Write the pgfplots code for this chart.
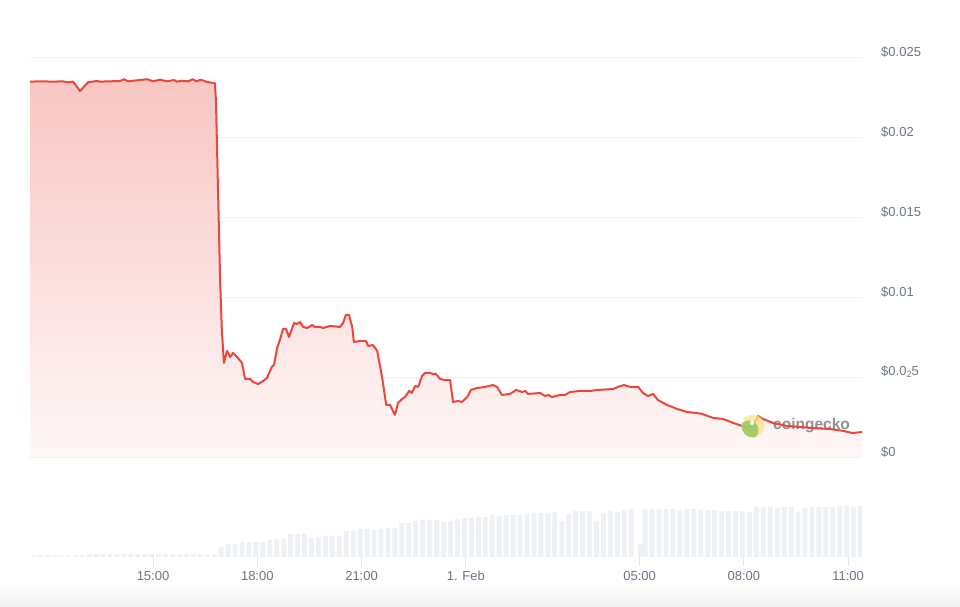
\documentclass[border=0pt]{standalone}
\usepackage{fontspec}
\setmainfont{Liberation Sans}
\usepackage{pgfplots}
\usepackage{pgfplotstable}
\pgfplotsset{compat=1.18}
\definecolor{linered}{RGB}{234,70,58}
\definecolor{fillTop}{RGB}{248,198,195}
\definecolor{fillBot}{RGB}{255,247,247}
\definecolor{gridc}{RGB}{240,241,244}
\definecolor{labelc}{RGB}{106,117,135}
\definecolor{barc}{RGB}{237,240,244}
\definecolor{tickc}{RGB}{226,229,234}
\definecolor{bandc}{RGB}{241,241,242}
\definecolor{wmtext}{RGB}{115,115,115}
\definecolor{wmyellow}{RGB}{250,228,140}
\definecolor{wmgreen}{RGB}{140,200,90}

\pgfplotstableread{
h v
11.46 0.02346
11.75 0.02348
12.12 0.02346
12.41 0.02348
12.53 0.02342
12.70 0.02346
12.90 0.02288
13.13 0.02342
13.39 0.02350
13.47 0.02346
14.05 0.02350
14.17 0.02361
14.28 0.02348
14.83 0.02361
15.00 0.02348
15.20 0.02358
15.40 0.02348
15.60 0.02356
15.69 0.02346
15.83 0.02352
16.01 0.02348
16.15 0.02361
16.24 0.02348
16.38 0.02358
16.55 0.02344
16.78 0.02336
16.81 0.02231
16.93 0.01106
16.98 0.00794
17.04 0.00588
17.13 0.00663
17.22 0.00625
17.30 0.00650
17.42 0.00625
17.56 0.00588
17.65 0.00488
17.79 0.00488
17.88 0.00469
18.02 0.00456
18.17 0.00475
18.28 0.00494
18.42 0.00563
18.48 0.00575
18.57 0.00681
18.65 0.00731
18.74 0.00800
18.83 0.00800
18.91 0.00750
19.06 0.00838
19.14 0.00831
19.23 0.00844
19.32 0.00813
19.43 0.00806
19.58 0.00825
19.66 0.00813
19.81 0.00813
19.89 0.00806
20.09 0.00819
20.38 0.00813
20.47 0.00838
20.55 0.00888
20.64 0.00888
20.73 0.00813
20.78 0.00719
20.96 0.00725
21.04 0.00725
21.13 0.00725
21.19 0.00694
21.33 0.00700
21.45 0.00663
21.59 0.00500
21.71 0.00325
21.82 0.00325
21.96 0.00263
22.05 0.00338
22.17 0.00363
22.25 0.00375
22.37 0.00413
22.45 0.00400
22.54 0.00444
22.63 0.00438
22.74 0.00506
22.83 0.00525
22.97 0.00525
23.06 0.00519
23.14 0.00519
23.26 0.00488
23.40 0.00481
23.55 0.00481
23.63 0.00344
23.78 0.00350
23.89 0.00344
24.04 0.00375
24.15 0.00419
24.32 0.00431
24.55 0.00438
24.78 0.00450
24.90 0.00438
25.04 0.00388
25.27 0.00394
25.45 0.00419
25.62 0.00406
25.71 0.00413
25.79 0.00394
26.14 0.00400
26.28 0.00381
26.37 0.00388
26.48 0.00375
26.71 0.00388
26.86 0.00388
27.00 0.00406
27.29 0.00413
27.58 0.00413
27.78 0.00419
28.24 0.00425
28.38 0.00438
28.55 0.00450
28.73 0.00438
28.96 0.00438
29.10 0.00400
29.24 0.00381
29.39 0.00394
29.53 0.00356
29.79 0.00325
29.94 0.00313
30.08 0.00300
30.37 0.00281
30.65 0.00275
30.80 0.00269
31.12 0.00244
31.40 0.00238
31.69 0.00213
31.95 0.00194
32.09 0.00188
32.27 0.00194
32.32 0.00219
32.41 0.00256
32.55 0.00238
32.84 0.00213
33.24 0.00194
33.62 0.00188
33.99 0.00181
34.48 0.00175
34.86 0.00163
35.12 0.00150
35.40 0.00156
}\price

\pgfplotstableread{
h vol
11.56 1.5
11.76 1.5
11.96 1.5
12.16 1.5
12.36 1.5
12.56 1.5
12.76 1.5
12.96 2
13.16 3
13.36 3
13.56 3
13.76 3
13.96 3
14.16 3
14.36 3
14.56 3
14.76 2.5
14.96 3
15.16 2.5
15.36 2.5
15.56 2.5
15.76 2.5
15.96 2.5
16.16 2.5
16.36 2.5
16.56 2.5
16.76 2.5
16.96 10
17.16 13
17.36 13
17.56 15
17.76 15
17.96 15
18.16 15
18.36 17
18.56 18
18.76 18
18.96 23
19.16 23
19.36 23
19.56 19
19.76 20
19.96 21
20.16 21
20.36 21
20.56 26
20.76 26
20.96 28
21.16 28
21.36 27
21.56 28
21.76 29
21.96 29
22.16 34
22.36 34
22.56 36
22.76 37
22.96 37
23.16 37
23.36 35
23.56 36
23.76 38
23.96 39
24.16 39
24.36 40
24.56 40
24.76 42
24.96 41
25.16 42
25.36 42
25.56 42
25.76 43
25.96 44
26.16 44
26.36 44
26.56 45
26.76 36
26.96 43
27.16 46
27.36 46
27.56 46
27.76 36
27.96 44
28.16 46
28.36 45
28.56 47
28.76 48
29.02 13
29.16 48
29.36 48
29.56 48
29.76 48
29.96 48
30.16 47
30.36 48
30.56 48
30.76 47
30.96 47
31.16 47
31.36 46
31.56 46
31.76 46
31.96 46
32.16 45
32.36 50
32.56 50
32.76 50
32.96 49
33.16 50
33.36 50
33.56 45
33.76 49
33.96 50
34.16 50
34.36 50
34.56 50
34.76 51
34.96 51
35.16 50
35.36 51
}\vol

\newcommand{\lblfont}{\fontsize{13}{15}\selectfont}

\begin{document}
\begin{tikzpicture}
\useasboundingbox (0pt,0pt) rectangle (960pt,607pt);
\shade[top color=white, bottom color=bandc] (0pt,0pt) rectangle (960pt,24pt);

\begin{axis}[
  at={(30pt,150pt)}, anchor=south west, scale only axis,
  width=832pt, height=400pt,
  xmin=11.46, xmax=35.40, ymin=0, ymax=0.025,
  axis line style={draw=none},
  xtick=\empty,
  scaled y ticks=false,
  ytick={0,0.005,0.01,0.015,0.02,0.025},
  yticklabels={\$0,{\$0.0\raisebox{-0.3ex}{\fontsize{9}{9}\selectfont 2}5},\$0.01,\$0.015,\$0.02,\$0.025},
  ymajorgrids, grid style={color=gridc, line width=0.8pt},
  major tick length=0pt,
  yticklabel pos=right,
  yticklabel style={anchor=west, font=\lblfont, text=labelc, xshift=15.7pt, yshift=5pt},
  clip=false,
]
\addplot[draw=none, top color=fillTop, bottom color=fillBot] table[x=h,y=v] {\price} \closedcycle;
% watermark text (behind the line)
\node[font=\bfseries\fontsize{15.5}{16}\selectfont, text=wmtext, opacity=0.8, anchor=west, inner sep=0pt] at (rel axis cs:0.893,0.0775) {coingecko};
\addplot[linered, line width=2pt, line join=round, no marks] table[x=h,y=v] {\price};
\end{axis}

\begin{axis}[
  at={(30pt,50pt)}, anchor=south west, scale only axis,
  width=832pt, height=100pt,
  xmin=11.46, xmax=35.40, ymin=0, ymax=100,
  axis y line=none, axis x line*=bottom,
  x axis line style={draw=none},
  xtick={15,18,21,24,29,32,35},
  xticklabels={15:00,18:00,21:00,1. Feb,05:00,08:00,11:00},
  tick align=outside, major tick length=9pt,
  xtick style={color=tickc, line width=0.8pt},
  xticklabel style={font=\lblfont, text=labelc, yshift=-2pt},
  ybar, bar width=0.14,
]
\addplot[fill=barc, draw=none] table[x=h,y=vol] {\vol};
\end{axis}

% watermark logo (over the line)
\begin{scope}
\fill[wmyellow, opacity=0.75] (753pt,181pt) circle (11.5pt);
\clip (753pt,181pt) circle (11.5pt);
\fill[wmgreen, opacity=0.8] (749pt,177pt) circle (9.5pt);
\end{scope}
\fill[white] (752pt,184pt) circle (2pt);
\end{tikzpicture}
\end{document}
